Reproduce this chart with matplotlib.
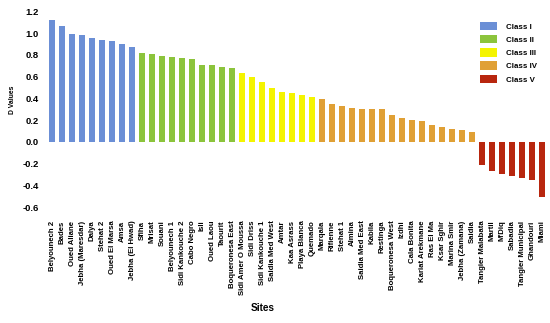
import matplotlib
matplotlib.use("Agg")
import matplotlib.pyplot as plt
from matplotlib.patches import Patch

sites = ["Belyounech 2", "Bades", "Oued Aliane", "Jebha (Maresdar)", "Dalya", "Stehat 2",
         "Oued El Marsa", "Amsa", "Jebha (El Hwad)", "Sfiha", "Mrisat", "Souani",
         "Belyounech 1", "Sidi Kankouche 2", "Cabo Negro", "Isli", "Oued Laou", "Taourit",
         "Boqueronesa East", "Sidi Amer O Moussa", "Sidi Driss", "Sidi Kankouche 1",
         "Saidia Med West", "Amtar", "Kaa Asrass", "Playa Blanca", "Quemado", "Marqala",
         "Rifienne", "Stehat 1", "Almina", "Saidia Med East", "Kabila", "Restinga",
         "Boqueronesa West", "Izdhi", "Cala Bonita", "Kariat Arekmane", "Ras El Ma",
         "Ksar Sghir", "Marina Smir", "Jebha (Zamana)", "Saidia", "Tangier Malabata",
         "Martil", "M'Diq", "Sabadia", "Tangier Municipal", "Ghandouri", "Miami"]

d_values = [1.12, 1.065, 0.995, 0.98, 0.955, 0.934, 0.925, 0.903, 0.876,
            0.817, 0.81, 0.793, 0.778, 0.772, 0.76, 0.704, 0.704, 0.692, 0.68,
            0.637, 0.597, 0.551, 0.496, 0.456, 0.447, 0.428, 0.413,
            0.392, 0.353, 0.335, 0.312, 0.306, 0.305, 0.305, 0.252, 0.224, 0.206,
            0.193, 0.16, 0.141, 0.117, 0.11, 0.089,
            -0.21, -0.269, -0.29, -0.313, -0.327, -0.35, -0.505]

site_class = [1] * 9 + [2] * 10 + [3] * 8 + [4] * 16 + [5] * 7

class_names = ["Class I", "Class II", "Class III", "Class IV", "Class V"]
class_colors = ["#6b8fd6", "#8cc43c", "#f4f400", "#e0a035", "#b8260e"]

plt.rcParams['font.family'] = ['Liberation Sans', 'DejaVu Sans']
plt.rcParams['font.weight'] = 'bold'

W, H = 550, 323
fig = plt.figure(figsize=(W / 100, H / 100), dpi=100)
left_px, right_px = 46, 546
top_px, bot_px = 5.9, 209.5
ax = fig.add_axes([left_px / W, (H - bot_px) / H, (right_px - left_px) / W, (bot_px - top_px) / H])

x = list(range(len(sites)))
colors = [class_colors[c - 1] for c in site_class]
ax.bar(x, d_values, width=0.6, color=colors)

ax.set_xlim(-0.6, 49.4)
ax.set_ylim(-0.62, 1.25)
ax.set_yticks([-0.6, -0.4, -0.2, 0.0, 0.2, 0.4, 0.6, 0.8, 1.0, 1.2])
ax.set_yticklabels([f"{v:.1f}" for v in [-0.6, -0.4, -0.2, 0.0, 0.2, 0.4, 0.6, 0.8, 1.0, 1.2]],
                   fontsize=6.8, fontweight='bold')
ax.set_xticks(x)
ax.set_xticklabels(sites, rotation=90, fontsize=5.6, fontweight='bold')
ax.tick_params(axis='both', length=0)
ax.tick_params(axis='y', pad=5)
ax.tick_params(axis='x', pad=8)
for s in ax.spines.values():
    s.set_visible(False)

fig.text(12 / W, 1 - 100 / H, "D Values", rotation=90, ha='center', va='center',
         fontsize=4.9, fontweight='bold')
fig.text(263 / W, 1 - 308 / H, "Sites", ha='center', va='center',
         fontsize=7.2, fontweight='bold')

handles = [Patch(facecolor=c, label=n) for c, n in zip(class_colors, class_names)]
fs = 5.7
leg = ax.legend(handles=handles, loc='upper left', bbox_to_anchor=(480 / W, 1 - 21.7 / H),
                bbox_transform=fig.transFigure, frameon=False, fontsize=fs,
                handlelength=2.15, handleheight=1.27, handletextpad=1.1,
                labelspacing=0.55, borderpad=0, borderaxespad=0)
for t in leg.get_texts():
    t.set_fontweight('bold')

fig.savefig("out.png", dpi=100)
